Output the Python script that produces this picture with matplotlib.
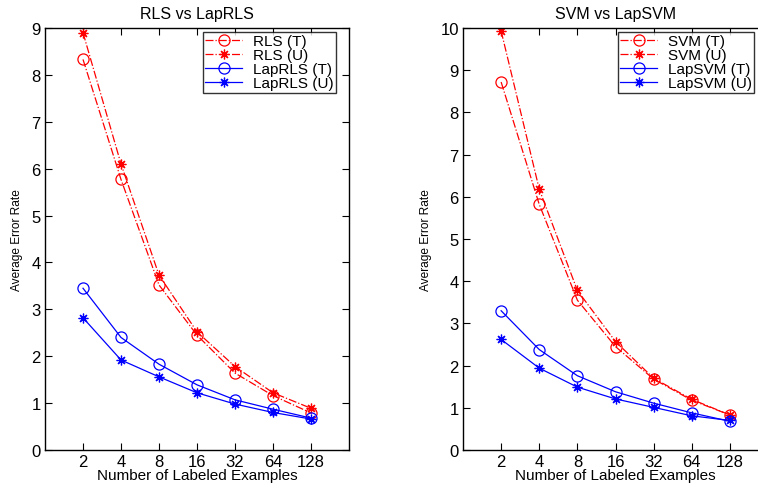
import matplotlib.pyplot as plt
import numpy as np

plt.rcParams['font.family'] = ['Liberation Sans', 'DejaVu Sans']

# data
n_labeled = ['2', '4', '8', '16', '32', '64', '128']
rls_t = [8.33, 5.77, 3.52, 2.45, 1.64, 1.16, 0.79]
rls_u = [8.90, 6.10, 3.73, 2.52, 1.78, 1.22, 0.89]
laprls_t = [3.45, 2.40, 1.83, 1.39, 1.07, 0.87, 0.68]
laprls_u = [2.82, 1.92, 1.56, 1.22, 0.98, 0.80, 0.66]

svm_t = [8.72, 5.82, 3.55, 2.45, 1.68, 1.18, 0.83]
svm_u = [9.93, 6.18, 3.78, 2.57, 1.70, 1.20, 0.83]
lapsvm_t = [3.30, 2.38, 1.76, 1.38, 1.11, 0.88, 0.68]
lapsvm_u = [2.62, 1.94, 1.49, 1.21, 1.01, 0.81, 0.70]

x = np.arange(1, len(n_labeled) + 1)

fig = plt.figure(figsize=(7.58, 4.85), dpi=100)
ax1 = fig.add_axes([45/758, 1 - 451/485, 304/758, 422/485])
ax2 = fig.add_axes([463/758, 1 - 451/485, 305/758, 422/485])

ASTER = (8, 2, 0)  # matlab-like '*'


def panel(ax, title, names, series, ymax, leg_pos):
    styles = [('r', '-.', 'o'), ('r', '-.', ASTER), ('b', '-', 'o'), ('b', '-', ASTER)]
    for (c, ls, m), y, name in zip(styles, series, names):
        ax.plot(x, y, color=c, linestyle=ls, marker=m, markersize=8 if m == 'o' else 7,
                markerfacecolor='none' if m == 'o' else c, markeredgecolor=c,
                markeredgewidth=0.9, linewidth=0.9, label=name)
    ax.set_xlim(0, 8)
    ax.set_ylim(0, ymax)
    ax.set_xticks(x)
    ax.set_xticklabels(n_labeled)
    ax.set_yticks(np.arange(0, ymax + 1))
    ax.tick_params(direction='in', top=True, right=True, labelsize=12, length=5, pad=3)
    ax.set_title(title, fontsize=11.5, pad=7)
    ax.set_xlabel('Number of Labeled Examples', fontsize=11, labelpad=-1)
    ax.set_ylabel('Average Error Rate', fontsize=8.6, labelpad=6)
    for s in ax.spines.values():
        s.set_linewidth(1.0)
    leg = ax.legend(loc='upper left', bbox_to_anchor=leg_pos, fontsize=11,
                    frameon=True, fancybox=False, edgecolor='black',
                    borderpad=0.15, labelspacing=0.0, handlelength=2.4,
                    handletextpad=0.7, borderaxespad=0)
    leg.get_frame().set_linewidth(1.0)


panel(ax1, 'RLS vs LapRLS', ['RLS (T)', 'RLS (U)', 'LapRLS (T)', 'LapRLS (U)'],
      [rls_t, rls_u, laprls_t, laprls_u], 9, ((203 - 45) / 304, (451 - 33) / 422))
panel(ax2, 'SVM vs LapSVM', ['SVM (T)', 'SVM (U)', 'LapSVM (T)', 'LapSVM (U)'],
      [svm_t, svm_u, lapsvm_t, lapsvm_u], 10, ((618 - 463) / 305, (451 - 33) / 422))

fig.savefig('out.png', dpi=100)
